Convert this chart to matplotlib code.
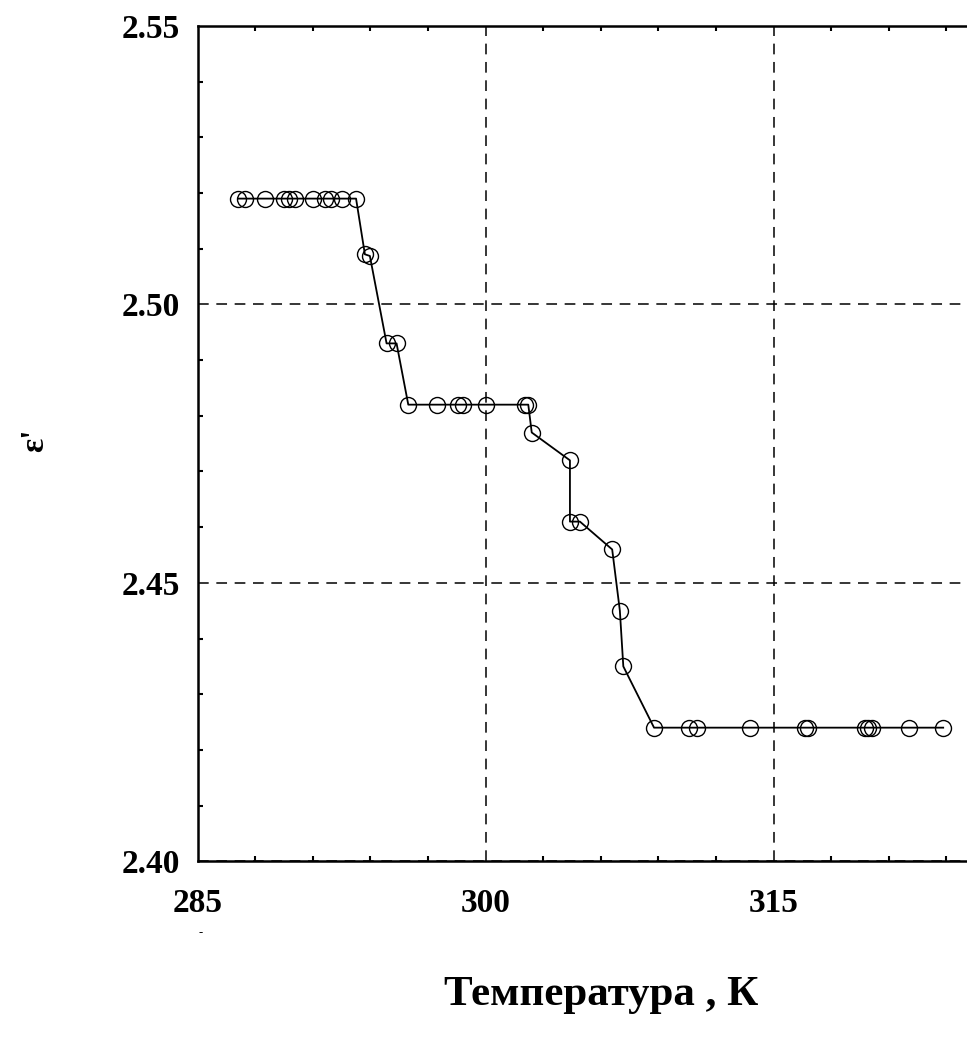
import matplotlib
matplotlib.use("Agg")
import matplotlib.pyplot as plt
from matplotlib.ticker import MultipleLocator

# Data
temperature = [287.10, 287.46, 288.51, 289.49, 289.76, 290.07, 291.01, 291.63, 291.95,
               292.52, 293.25, 293.71, 293.97, 294.84, 295.36, 295.97, 297.45, 298.57,
               298.83, 300.00, 302.05, 302.22, 302.40, 304.39, 304.39, 304.91, 306.59,
               306.99, 307.17, 308.77, 310.60, 310.99, 313.76, 316.63, 316.80, 319.76,
               319.93, 320.10, 322.06, 323.83]
epsilon = [2.519, 2.519, 2.519, 2.519, 2.519, 2.519, 2.519, 2.519, 2.519,
           2.519, 2.519, 2.509, 2.5087, 2.493, 2.493, 2.482, 2.482, 2.482,
           2.482, 2.482, 2.482, 2.482, 2.477, 2.472, 2.461, 2.461, 2.456,
           2.445, 2.435, 2.424, 2.424, 2.424, 2.424, 2.424, 2.424, 2.424,
           2.424, 2.424, 2.424, 2.424]

x_ticks = [285, 300, 315]
y_ticks = [2.40, 2.45, 2.50, 2.55]
x_label = "Температура , К"
y_label = "ε'"

serif = ["Liberation Serif", "DejaVu Serif"]

fig = plt.figure(figsize=(9.67, 10.43), dpi=100)
ax = fig.add_axes([0.2044, 0.1742, 0.7956, 0.8009])

ax.plot(temperature, epsilon, color="black", linewidth=1.3,
        marker="o", markersize=11.5, markerfacecolor="none",
        markeredgecolor="black", markeredgewidth=1.0, zorder=3)

ax.set_xlim(285, 325.07)
ax.set_ylim(2.40, 2.55)
ax.set_xticks(x_ticks)
ax.set_yticks(y_ticks)
ax.set_xticklabels([f"{t:d}" for t in x_ticks], fontfamily=serif,
                   fontweight="bold", fontsize=24)
ax.set_yticklabels([f"{t:.2f}" for t in y_ticks], fontfamily=serif,
                   fontweight="bold", fontsize=24)
ax.xaxis.set_minor_locator(MultipleLocator(3))
ax.yaxis.set_minor_locator(MultipleLocator(0.01))
ax.tick_params(axis="both", which="both", direction="in", top=True,
               right=False, width=1.5)
ax.tick_params(axis="both", which="major", length=0)
ax.tick_params(axis="both", which="minor", length=3.5)
ax.tick_params(axis="x", which="major", pad=19)
ax.tick_params(axis="y", which="major", pad=13)

ax.grid(True, which="major", color="black", linestyle=(0, (7, 5)),
        linewidth=1.1)
for side in ["left", "bottom", "top"]:
    ax.spines[side].set_linewidth(1.8)
ax.spines["right"].set_visible(False)

fig.text(0.036, 0.578, y_label, rotation=90, fontfamily=serif,
         fontweight="bold", fontsize=24, ha="center", va="center")
fig.text(0.622, 0.046, x_label, fontfamily=serif, fontweight="bold",
         fontsize=31, ha="center", va="center")
fig.text(0.207, 0.105, "-", fontfamily=serif, fontsize=9,
         ha="center", va="center")

fig.savefig("out.png", dpi=100)
